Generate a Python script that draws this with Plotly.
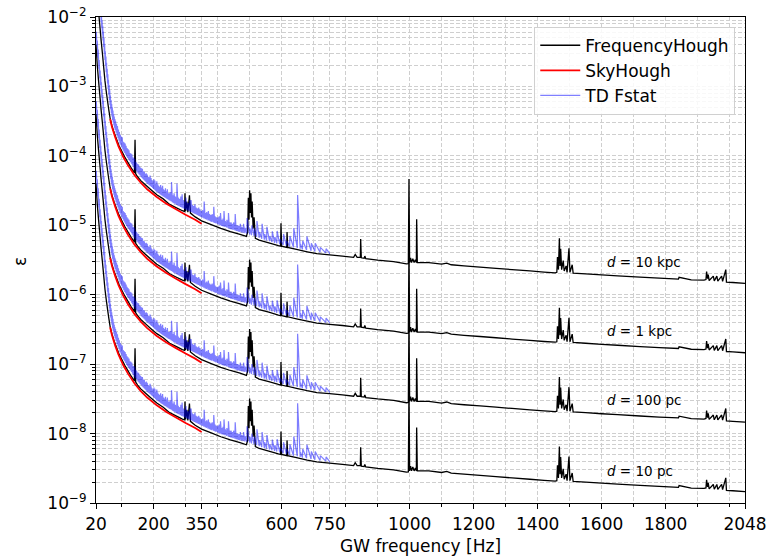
import plotly.graph_objects as go

# ---------------- data (values read at d = 10 kpc) ----------------
distance_labels = ["d = 10 kpc", "d = 1 kpc", "d = 100 pc", "d = 10 pc"]
distance_scale = [1.0, 0.1, 0.01, 0.001]   # epsilon scales linearly with distance

fh_freq = [20, 24, 28, 32, 36, 40, 44, 48, 52, 56, 60, 64, 70, 76, 84, 92, 100, 110, 120, 130,
           140, 142, 144, 150, 160, 175, 190, 210, 230, 250, 270, 290,
           297, 298, 300, 304, 307, 312, 315, 330, 350, 380, 410, 440, 470, 490,
           494, 496, 498, 500, 502, 504, 506, 508, 511, 514, 518,
           530, 560, 590, 597, 598, 600, 616, 617, 619, 650, 680, 710, 750, 790,
           825, 830, 836, 846, 847, 849, 858, 860, 863, 900, 950, 990,
           996, 998, 1000, 1003, 1006, 1010, 1014, 1018, 1021, 1022, 1024,
           1060, 1100, 1116, 1130, 1170, 1220, 1270, 1320, 1376, 1420, 1455,
           1460, 1462, 1465, 1468, 1470, 1472, 1475, 1480, 1483, 1489, 1492, 1498, 1501, 1508, 1511,
           1550, 1600, 1650, 1720, 1780, 1840, 1842, 1880, 1920,
           1926, 1928, 1931, 1933, 1936, 1949, 1952, 1960, 1963, 1975, 1978, 1988, 1990,
           2010, 2048]
fh_eps = [4.0e-2, 2.0e-2, 1.2e-2, 7.5e-3, 4.6e-3, 3.0e-3, 1.9e-3, 1.2e-3, 8.5e-4, 6.2e-4, 4.6e-4, 3.5e-4,
          2.7e-4, 2.2e-4, 1.75e-4, 1.4e-4, 1.18e-4, 9.6e-5, 8.0e-5, 6.7e-5,
          5.7e-5, 1.7e-4, 5.5e-5, 5.0e-5, 4.4e-5, 3.8e-5, 3.3e-5, 2.75e-5, 2.4e-5, 2.0e-5, 1.8e-5, 1.62e-5,
          1.58e-5, 2.9e-5, 1.6e-5, 2.2e-5, 1.55e-5, 2.7e-5, 1.5e-5, 1.32e-5, 1.16e-5, 1.02e-5, 9.0e-6,
          8.1e-6, 7.4e-6, 6.9e-6,
          8.0e-6, 2.5e-5, 1.2e-5, 3.2e-5, 1.5e-5, 2.9e-5, 1.3e-5, 2.2e-5, 9.0e-6, 1.3e-5, 6.5e-6,
          6.1e-6, 5.6e-6, 5.1e-6, 5.0e-6, 1.07e-5, 5.0e-6, 4.8e-6, 8.0e-6, 4.8e-6, 4.45e-6, 4.15e-6,
          3.9e-6, 3.75e-6, 3.6e-6,
          3.45e-6, 3.8e-6, 3.45e-6, 3.45e-6, 6.35e-6, 3.4e-6, 3.35e-6, 3.6e-6, 3.3e-6, 3.15e-6, 3.0e-6, 2.78e-6,
          2.8e-6, 4.65e-5, 2.9e-6, 3.4e-6, 2.9e-6, 3.3e-6, 2.9e-6, 3.2e-6, 2.9e-6, 1.22e-5, 2.9e-6,
          2.9e-6, 2.75e-6, 2.85e-6, 2.7e-6, 2.6e-6, 2.5e-6, 2.4e-6, 2.3e-6, 2.2e-6, 2.12e-6, 2.07e-6,
          2.1e-6, 3.5e-6, 2.3e-6, 6.5e-6, 2.6e-6, 4.6e-6, 2.3e-6, 3.1e-6, 2.2e-6, 2.6e-6, 2.1e-6, 4.66e-6,
          2.1e-6, 2.7e-6, 2.05e-6,
          2.0e-6, 1.93e-6, 1.87e-6, 1.79e-6, 1.73e-6, 1.68e-6, 1.78e-6, 1.64e-6, 1.62e-6,
          1.65e-6, 2.15e-6, 1.7e-6, 1.95e-6, 1.6e-6, 1.85e-6, 1.58e-6, 1.85e-6, 1.57e-6, 1.85e-6, 1.56e-6,
          2.3e-6, 1.52e-6,
          1.5e-6, 1.46e-6]

sh_freq = [64, 70, 80, 90, 105, 120, 140, 160, 180, 210, 240, 270, 300, 330, 350]
sh_eps = [3.4e-4, 2.6e-4, 1.85e-4, 1.38e-4, 9.7e-5, 7.3e-5, 5.3e-5, 4.1e-5, 3.3e-5, 2.55e-5,
          2.05e-5, 1.7e-5, 1.42e-5, 1.2e-5, 1.05e-5]

# TD Fstat: floor value at each frequency bin and the line peak found just above it
td_freq = [20, 23, 26, 29, 32, 34, 36, 38, 40, 42, 44, 46, 48, 50, 52, 54, 56, 58, 60, 62,
           64, 66, 68, 70, 72, 74, 76, 78, 80, 83, 86, 89, 92, 95, 98, 101, 104, 107, 110, 113,
           116, 119, 122, 125, 128, 131, 134, 137, 140, 143, 146, 149, 152, 155, 158, 161, 164, 167, 170, 173,
           176, 179, 182, 185, 188, 191, 194, 197, 200, 203, 206, 209, 212, 215, 218, 221, 224, 227, 230, 233,
           236, 239, 242, 245, 248, 251, 255, 259, 263, 267, 272, 276, 280, 284, 288, 292, 296, 300, 304, 308,
           312, 316, 320, 324, 328, 332, 336, 340, 344, 348, 352, 357, 361, 365, 370, 374, 378, 382, 387, 391,
           395, 400, 404, 408, 412, 416, 419, 423, 428, 433, 437, 441, 445, 449, 454, 458, 462, 466, 470, 475,
           480, 485, 491, 500, 506, 514, 522, 530, 538, 546, 553, 562, 570, 578, 585, 594, 605, 615, 625, 637,
           649, 658, 665, 678, 692, 704, 720, 738, 750]
td_floor = [6.0e-2, 3.8e-2, 2.6e-2, 1.8e-2, 1.3e-2, 1.05e-2, 8.5e-3, 6.9e-3, 5.6e-3, 4.6e-3,
            3.7e-3, 3.0e-3, 2.4e-3, 2.0e-3, 1.6e-3, 1.35e-3, 1.1e-3, 9.2e-4, 7.6e-4, 6.4e-4,
            5.4e-4, 4.7e-4, 4.1e-4, 3.7e-4, 3.3e-4, 3.0e-4, 2.75e-4, 2.55e-4, 2.35e-4, 2.15e-4,
            1.95e-4, 1.8e-4, 1.65e-4, 1.5e-4, 1.42e-4, 1.32e-4, 1.24e-4, 1.16e-4, 1.1e-4, 1.04e-4,
            9.8e-5, 9.3e-5, 8.9e-5, 8.5e-5, 8.1e-5, 7.7e-5, 7.3e-5, 7.0e-5, 6.6e-5, 6.3e-5,
            6.1e-5, 5.8e-5, 5.6e-5, 5.4e-5, 5.2e-5, 5.0e-5, 4.8e-5, 4.65e-5, 4.5e-5, 4.35e-5,
            4.2e-5, 4.05e-5, 3.95e-5, 3.85e-5, 3.75e-5, 3.65e-5, 3.55e-5, 3.45e-5, 3.35e-5, 3.25e-5,
            3.15e-5, 3.05e-5, 3.0e-5, 2.92e-5, 2.85e-5, 2.78e-5, 2.72e-5, 2.66e-5, 2.6e-5, 2.55e-5,
            2.5e-5, 2.45e-5, 2.4e-5, 2.35e-5, 2.3e-5, 2.26e-5, 2.2e-5, 2.14e-5, 2.08e-5, 2.02e-5,
            1.97e-5, 1.92e-5, 1.88e-5, 1.84e-5, 1.8e-5, 1.76e-5, 1.72e-5, 1.69e-5, 1.65e-5, 1.62e-5,
            1.59e-5, 1.56e-5, 1.53e-5, 1.5e-5, 1.47e-5, 1.44e-5, 1.41e-5, 1.38e-5, 1.35e-5, 1.32e-5,
            1.29e-5, 1.26e-5, 1.23e-5, 1.21e-5, 1.18e-5, 1.16e-5, 1.14e-5, 1.12e-5, 1.1e-5, 1.08e-5,
            1.06e-5, 1.04e-5, 1.02e-5, 1.0e-5, 9.8e-6, 9.7e-6, 9.6e-6, 9.45e-6, 9.3e-6, 9.1e-6,
            8.95e-6, 8.8e-6, 8.7e-6, 8.6e-6, 8.45e-6, 8.3e-6, 8.2e-6, 8.1e-6, 8.0e-6, 7.9e-6,
            7.8e-6, 7.7e-6, 7.6e-6, 7.4e-6, 7.2e-6, 7.0e-6, 6.8e-6, 6.6e-6, 6.4e-6, 6.2e-6,
            6.05e-6, 5.9e-6, 5.75e-6, 5.6e-6, 5.5e-6, 5.35e-6, 5.2e-6, 5.05e-6, 4.95e-6, 4.8e-6,
            4.7e-6, 4.6e-6, 4.5e-6, 4.4e-6, 4.3e-6, 4.2e-6, 4.1e-6, 4.0e-6, 3.95e-6]
td_peak = [6.0e-2, 4.6e-2, 3.4e-2, 2.4e-2, 1.7e-2, 1.4e-2, 1.15e-2, 9.0e-3, 7.5e-3, 6.2e-3,
           5.0e-3, 4.1e-3, 3.2e-3, 2.7e-3, 2.2e-3, 1.8e-3, 1.5e-3, 1.25e-3, 1.05e-3, 8.8e-4,
           7.4e-4, 6.4e-4, 5.6e-4, 5.0e-4, 4.5e-4, 4.0e-4, 3.7e-4, 3.4e-4, 3.2e-4, 2.9e-4,
           2.7e-4, 2.4e-4, 2.2e-4, 2.0e-4, 1.9e-4, 1.85e-4, 1.6e-4, 1.55e-4, 1.5e-4, 1.4e-4,
           1.3e-4, 1.25e-4, 1.2e-4, 1.1e-4, 1.08e-4, 1.05e-4, 9.5e-5, 9.4e-5, 9.0e-5, 8.2e-5,
           8.0e-5, 7.6e-5, 7.5e-5, 7.0e-5, 6.8e-5, 6.6e-5, 6.5e-5, 6.0e-5, 5.9e-5, 5.5e-5,
           5.6e-5, 5.4e-5, 5.0e-5, 4.9e-5, 5.2e-5, 4.8e-5, 4.5e-5, 4.3e-5, 4.6e-5, 4.4e-5,
           4.0e-5, 4.3e-5, 3.9e-5, 3.7e-5, 3.6e-5, 3.8e-5, 3.5e-5, 3.7e-5, 3.3e-5, 3.2e-5,
           3.4e-5, 3.1e-5, 3.3e-5, 2.9e-5, 2.9e-5, 3.0e-5, 4.2e-5, 2.7e-5, 2.9e-5, 2.6e-5,
           4.0e-5, 2.5e-5, 2.4e-5, 2.6e-5, 2.8e-5, 2.3e-5, 2.2e-5, 2.5e-5, 2.1e-5, 2.1e-5,
           2.3e-5, 2.3e-5, 1.95e-5, 1.9e-5, 2.0e-5, 1.8e-5, 1.75e-5, 1.8e-5, 1.7e-5, 1.6e-5,
           1.65e-5, 2.2e-5, 1.5e-5, 1.55e-5, 1.6e-5, 1.45e-5, 1.4e-5, 1.45e-5, 1.85e-5, 1.35e-5,
           1.3e-5, 1.3e-5, 1.35e-5, 1.5e-5, 1.2e-5, 1.25e-5, 1.6e-5, 1.15e-5, 1.2e-5, 1.5e-5,
           1.1e-5, 1.1e-5, 1.05e-5, 1.1e-5, 1.45e-5, 1.0e-5, 1.0e-5, 9.8e-6, 1.05e-5, 9.5e-6,
           1.05e-5, 9.2e-6, 1.27e-5, 9.0e-6, 1.0e-5, 9.0e-6, 1.15e-5, 8.0e-6, 1.05e-5, 7.5e-6,
           9.5e-6, 7.0e-6, 8.2e-6, 6.8e-6, 8.3e-6, 6.3e-6, 7.5e-6, 6.0e-6, 7.0e-6, 9.1e-6,
           2.73e-5, 5.4e-6, 6.0e-6, 6.9e-6, 5.5e-6, 5.5e-6, 4.8e-6, 4.6e-6, 3.95e-6]

x_major_ticks = [20, 200, 350, 600, 750, 1000, 1200, 1400, 1600, 1800, 2048]
x_minor_ticks = [100, 300, 400, 500, 700, 800, 900, 1100, 1300, 1500, 1700, 1900, 2000]
y_exponents = [-9, -8, -7, -6, -5, -4, -3, -2]
label_freq = 1610
label_log_eps = [-5.53, -6.52, -7.515, -8.54]

# ---------------- figure ----------------
FONT = "DejaVu Sans"
fig = go.Figure()

# TD Fstat drawn as floor -> peak pairs (peak one bin above the floor)
n_td = min(len(td_freq), len(td_floor), len(td_peak))
td_x, td_y = [], []
for f, lo, hi in zip(td_freq[:n_td], td_floor[:n_td], td_peak[:n_td]):
    td_x += [f, f + 1]
    td_y += [lo, hi]

series = [
    ("FrequencyHough", fh_freq, fh_eps, "black", 1.3, 1.0),
    ("SkyHough", sh_freq, sh_eps, "red", 1.8, 1.0),
    ("TD Fstat", td_x, td_y, "blue", 1.2, 0.5),
]
for name, fx, fy, col, lw, op in series:
    for i, s in enumerate(distance_scale):
        fig.add_trace(go.Scatter(
            x=fx, y=[v * s for v in fy], mode="lines", name=name,
            legendgroup=name, showlegend=(i == 0), opacity=op,
            line=dict(color=col, width=lw, simplify=False),
            hoverinfo="skip"))

grid_common = dict(showgrid=True, gridcolor="#cfcfcf", gridwidth=0.8, griddash="4px,2px")

fig.update_xaxes(
    range=[20, 2048], tickmode="array", tickvals=x_major_ticks,
    ticktext=[str(v) for v in x_major_ticks],
    ticks="outside", ticklen=5, tickwidth=1, tickcolor="black",
    showline=True, linecolor="black", linewidth=1.2, mirror=True,
    tickfont=dict(family=FONT, size=17, color="black"),
    zeroline=False, automargin=False,
    minor=dict(tickmode="array", tickvals=x_minor_ticks, ticks="outside", ticklen=3,
               tickcolor="black", **grid_common),
    **grid_common)

y_minor = [m * 10.0 ** e for e in y_exponents[:-1] for m in range(2, 10)]
fig.update_yaxes(
    type="log", range=[-9, -2], tickmode="array",
    tickvals=[10.0 ** e for e in y_exponents],
    ticktext=["10<sup>\u2212%d</sup>" % (-e) for e in y_exponents],
    ticks="outside", ticklen=5, tickwidth=1, tickcolor="black",
    showline=True, linecolor="black", linewidth=1.2, mirror=True,
    tickfont=dict(family=FONT, size=17, color="black"),
    zeroline=False, automargin=False,
    minor=dict(tickmode="array", tickvals=y_minor, ticks="outside", ticklen=3,
               tickcolor="black", **grid_common),
    **grid_common)

annotations = [
    dict(text="GW frequency [Hz]", xref="paper", yref="paper", x=0.5, y=-0.088,
         xanchor="center", yanchor="middle", showarrow=False,
         font=dict(family=FONT, size=17, color="black")),
    dict(text="\u03b5", xref="paper", yref="paper", x=-0.117, y=0.496, textangle=-90,
         xanchor="center", yanchor="middle", showarrow=False,
         font=dict(family=FONT, size=17, color="black")),
]
for lab, ly in zip(distance_labels, label_log_eps):
    d, rest = lab.split(" = ")
    annotations.append(dict(text="<i>%s</i> = %s" % (d, rest), x=label_freq, y=ly,
                            xref="x", yref="y", xanchor="left", yanchor="middle",
                            showarrow=False, font=dict(family=FONT, size=13.5, color="black")))

fig.update_layout(
    width=770, height=556,
    margin=dict(l=96, r=25, t=17, b=53, autoexpand=False),
    paper_bgcolor="white", plot_bgcolor="white",
    font=dict(family=FONT, size=17, color="black"),
    annotations=annotations,
    legend=dict(x=0.985, y=0.98, xanchor="right", yanchor="top",
                bgcolor="rgba(255,255,255,0.85)", bordercolor="#d0d0d0", borderwidth=1,
                font=dict(family=FONT, size=17, color="black"), tracegroupgap=0,
                itemwidth=40),
    showlegend=True,
)

fig.write_html("out.html", config={"displayModeBar": False},
               post_script="document.body.style.margin='0';document.body.style.overflow='hidden';")
